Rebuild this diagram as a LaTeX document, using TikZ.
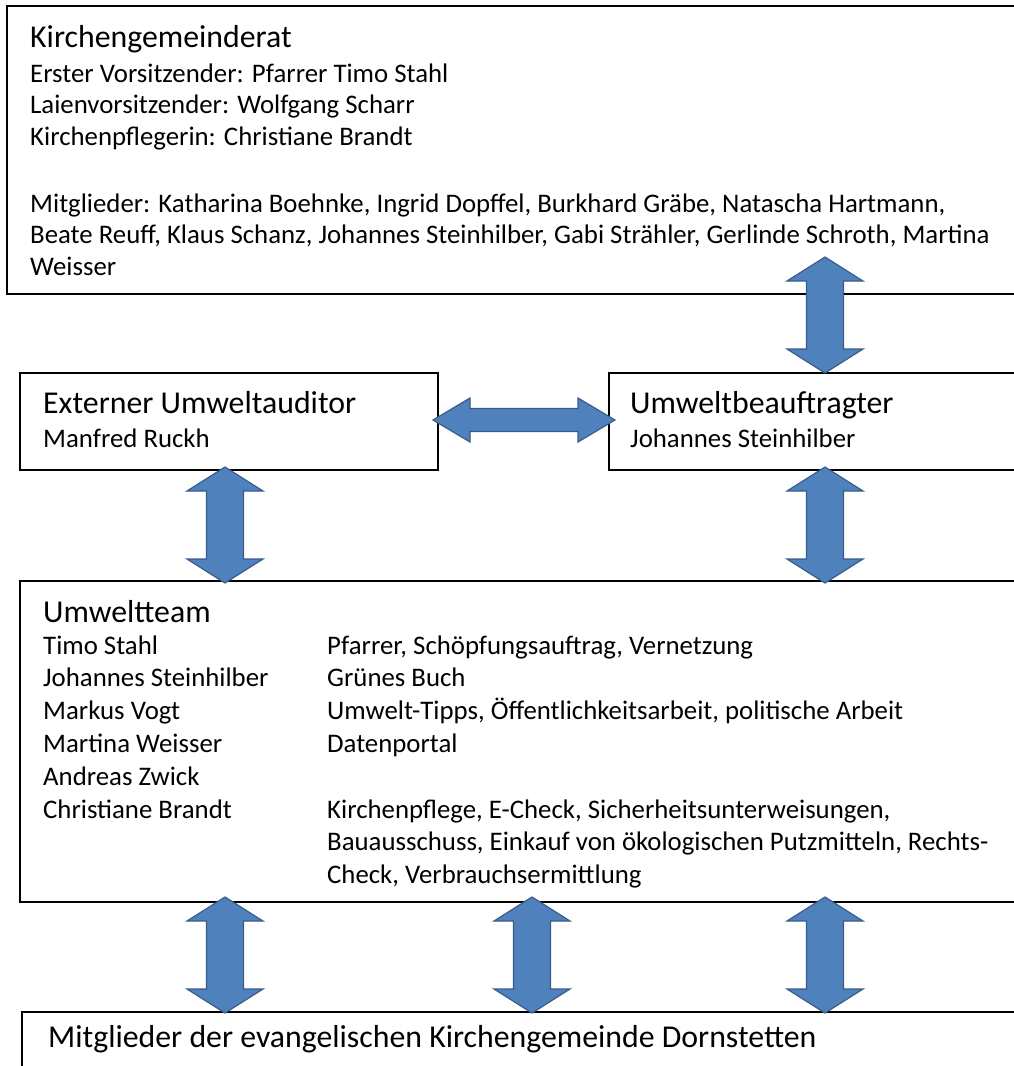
\documentclass[tikz,border=0pt]{standalone}
\usepackage{fontspec}
\setmainfont{Carlito}
\definecolor{arrfill}{RGB}{79,129,189}
\definecolor{arrline}{RGB}{56,93,138}
\tikzset{
  boxline/.style={draw=black, line width=1.5pt, fill=white},
  blockarrow/.style={fill=arrfill, draw=arrline, line width=1.2pt, line join=miter},
  body/.style={anchor=base west, inner sep=0pt, font=\fontsize{26.8}{32}\selectfont},
  title/.style={anchor=base west, inner sep=0pt, font=\fontsize{31.8}{36}\selectfont},
}
\newcommand\vdarr[3]{% cx, ytop, ybot
  \draw[blockarrow] (#1,#2) -- ++(38,24) -- ++(-19.5,0) -- (#1+18.5,#3-24) -- ++(19.5,0) -- (#1,#3) -- ++(-38,-24) -- ++(19.5,0) -- (#1-18.5,#2+24) -- ++(-19.5,0) -- cycle;}
\begin{document}
\begin{tikzpicture}[x=1pt,y=-1pt]
\clip (0,0) rectangle (1014,1066);
\fill[white] (0,0) rectangle (1014,1066);
% boxes
\draw[boxline] (7,6) rectangle (1040,294);
\draw[boxline] (20,373) rectangle (438,470);
\draw[boxline] (609,373) rectangle (1040,470);
\draw[boxline] (20,581) rectangle (1040,902);
\draw[boxline] (22,1012) rectangle (1040,1090);
% Kirchengemeinderat
\node[title] (kgrt) at (30,47) {Kirchengemeinderat};
\node[body] (k1) at (30,82) {Erster Vorsitzender: Pfarrer Timo Stahl};
\node[body] (k2) at (30,113) {Laienvorsitzender: Wolfgang Scharr};
\node[body] (k3) at (30,145) {Kirchenpflegerin: Christiane Brandt};
\node[body] (k4) at (30,212) {Mitglieder: Katharina Boehnke, Ingrid Dopffel, Burkhard Gräbe, Natascha Hartmann,};
\node[body] (k5) at (30,243.5) {Beate Reuff, Klaus Schanz, Johannes Steinhilber, Gabi Strähler, Gerlinde Schroth, Martina};
\node[body] (k6) at (30,275) {Weisser};
% Externer
\node[title] (ext) at (43,413) {Externer Umweltauditor};
\node[body] (ext1) at (43,447) {Manfred Ruckh};
% Umweltbeauftragter
\node[title] (ub) at (630,413) {Umweltbeauftragter};
\node[body] (ub1) at (630,447) {Johannes Steinhilber};
% Umweltteam
\node[title] (team) at (43,622) {Umweltteam};
\node[body] (t1) at (43,654) {Timo Stahl};
\node[body] (t2) at (43,686.8) {Johannes Steinhilber};
\node[body] (t3) at (43,719.6) {Markus Vogt};
\node[body] (t4) at (43,752.4) {Martina Weisser};
\node[body] (t5) at (43,785.2) {Andreas Zwick};
\node[body] (t6) at (43,818) {Christiane Brandt};
\node[body] (r1) at (327,654) {Pfarrer, Schöpfungsauftrag, Vernetzung};
\node[body] (r2) at (327,686.8) {Grünes Buch};
\node[body] (r3) at (327,719.6) {Umwelt-Tipps, Öffentlichkeitsarbeit, politische Arbeit};
\node[body] (r4) at (327,752.4) {Datenportal};
\node[body] (r6) at (327,818) {Kirchenpflege, E-Check, Sicherheitsunterweisungen,};
\node[body] (r7) at (327,850.8) {Bauausschuss, Einkauf von ökologischen Putzmitteln, Rechts-};
\node[body] (r8) at (327,883.6) {Check, Verbrauchsermittlung};
% Mitglieder
\node[title] (mit) at (48,1047) {Mitglieder der evangelischen Kirchengemeinde Dornstetten};
% arrows
\vdarr{825}{257}{373}
\vdarr{225}{467}{583}
\vdarr{825}{467}{583}
\vdarr{225}{897}{1013}
\vdarr{532}{897}{1013}
\vdarr{825}{897}{1013}
\draw[blockarrow] (433,420) -- ++(37,-22) -- ++(0,10.5) -- (578,408.5) -- ++(0,-10.5) -- (615,420) -- ++(-37,22) -- ++(0,-10.5) -- (470,431.5) -- ++(0,10.5) -- cycle;
\end{tikzpicture}
\end{document}
